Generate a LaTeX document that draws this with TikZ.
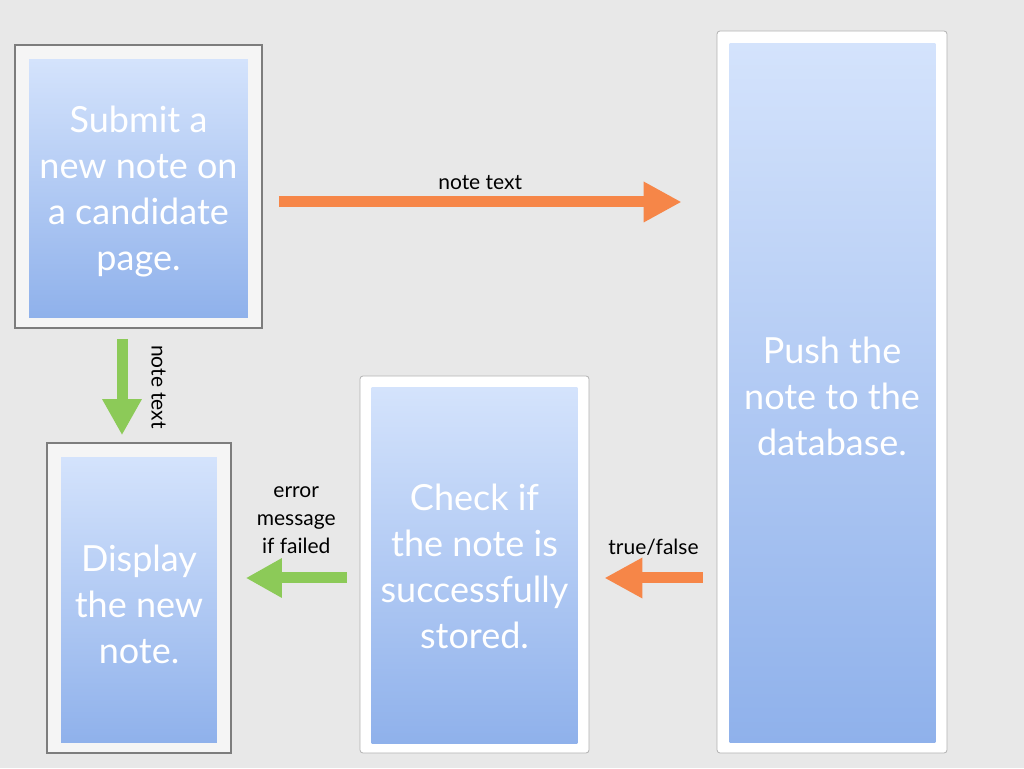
\documentclass[tikz,border=0pt]{standalone}
\usepackage{fontspec}
\setmainfont{Lato}
\usetikzlibrary{arrows.meta}

\definecolor{bggray}{RGB}{232,232,232}
\definecolor{paneltop}{RGB}{212,227,252}
\definecolor{panelbottom}{RGB}{143,177,235}
\definecolor{arroworange}{RGB}{246,134,72}
\definecolor{arrowgreen}{RGB}{140,202,88}
\definecolor{framegray}{RGB}{125,125,125}

\begin{document}
\begin{tikzpicture}[x=1pt, y=1pt,
    card/.style={draw=framegray, line width=1.6pt, fill=black!4,
      inner sep=0pt},
    slide/.style={draw=black!30, line width=0.8pt, fill=white,
      rounded corners=3pt, inner sep=0pt},
    panel/.style={top color=paneltop, bottom color=panelbottom},
    notetext/.style={white, align=center,
      font=\fontsize{36}{46}\selectfont},
    flowlabel/.style={black, align=center, inner sep=2pt,
      font=\fontsize{21}{28}\selectfont},
    orangearrow/.style={arroworange, line width=11pt,
      -{Triangle[length=38pt, width=38pt]}},
    greenarrow/.style={arrowgreen, line width=11pt,
      -{Triangle[length=36pt, width=37pt]}}]

      % The slide background.
      \fill[bggray] (0,0) rectangle (1024,768);

      % The box where a note is submitted.
      \node[card, minimum width=247pt, minimum height=283pt]
      (submit) at (138.5,581.5) {};
      \shade[panel] ([shift={(15pt,11pt)}]submit.south west)
      rectangle ([shift={(-15pt,-15pt)}]submit.north east);
      \node[notetext] (submittext) at (138.5,576)
      {Submit a\\new note on\\a candidate\\page.};

      % The box where the note is shown.
      \node[card, minimum width=184pt, minimum height=310pt]
      (display) at (139,170) {};
      \shade[panel] ([shift={(15pt,11pt)}]display.south west)
      rectangle ([shift={(-15pt,-15pt)}]display.north east);
      \node[notetext] (displaytext) at (139,164)
      {Display\\the new\\note.};

      % The check of the stored note.
      \node[slide, minimum width=229pt, minimum height=377pt]
      (check) at (474.5,203.5) {};
      \shade[panel] ([shift={(12pt,10pt)}]check.south west)
      rectangle ([shift={(-12pt,-12pt)}]check.north east);
      \node[notetext] (checktext) at (474.5,202)
      {Check if\\the note is\\successfully\\stored.};

      % The database push.
      \node[slide, minimum width=230pt, minimum height=722pt]
      (push) at (832,376) {};
      \shade[panel] ([shift={(13pt,11pt)}]push.south west)
      rectangle ([shift={(-12pt,-13pt)}]push.north east);
      \node[notetext] (pushtext) at (832,372)
      {Push the\\note to the\\database.};

      % Note text sent to the database.
      \draw[orangearrow] ([shift={(16pt,-15.5pt)}]submit.east) --
      ([shift={(-35pt,190pt)}]push.west)
      node [flowlabel, midway, above=5pt] {note text};

      % Note text shown right away.
      \draw[greenarrow] ([shift={(-16.5pt,-10pt)}]submit.south) --
      ([shift={(-17pt,7pt)}]display.north)
      node [flowlabel, midway, sloped, above=22pt] {note text};

      % Result of the database push.
      \draw[orangearrow] ([shift={(-14pt,-186pt)}]push.west) --
      ([shift={(15pt,-13.5pt)}]check.east)
      node [flowlabel, midway, above=15pt] {true/false};

      % Error message back to the note box.
      \draw[greenarrow] ([shift={(-13pt,-13.5pt)}]check.west) --
      ([shift={(14pt,20pt)}]display.east)
      node [flowlabel, midway, above=17pt] {error\\message\\if failed};
    \end{tikzpicture}
\end{document}
